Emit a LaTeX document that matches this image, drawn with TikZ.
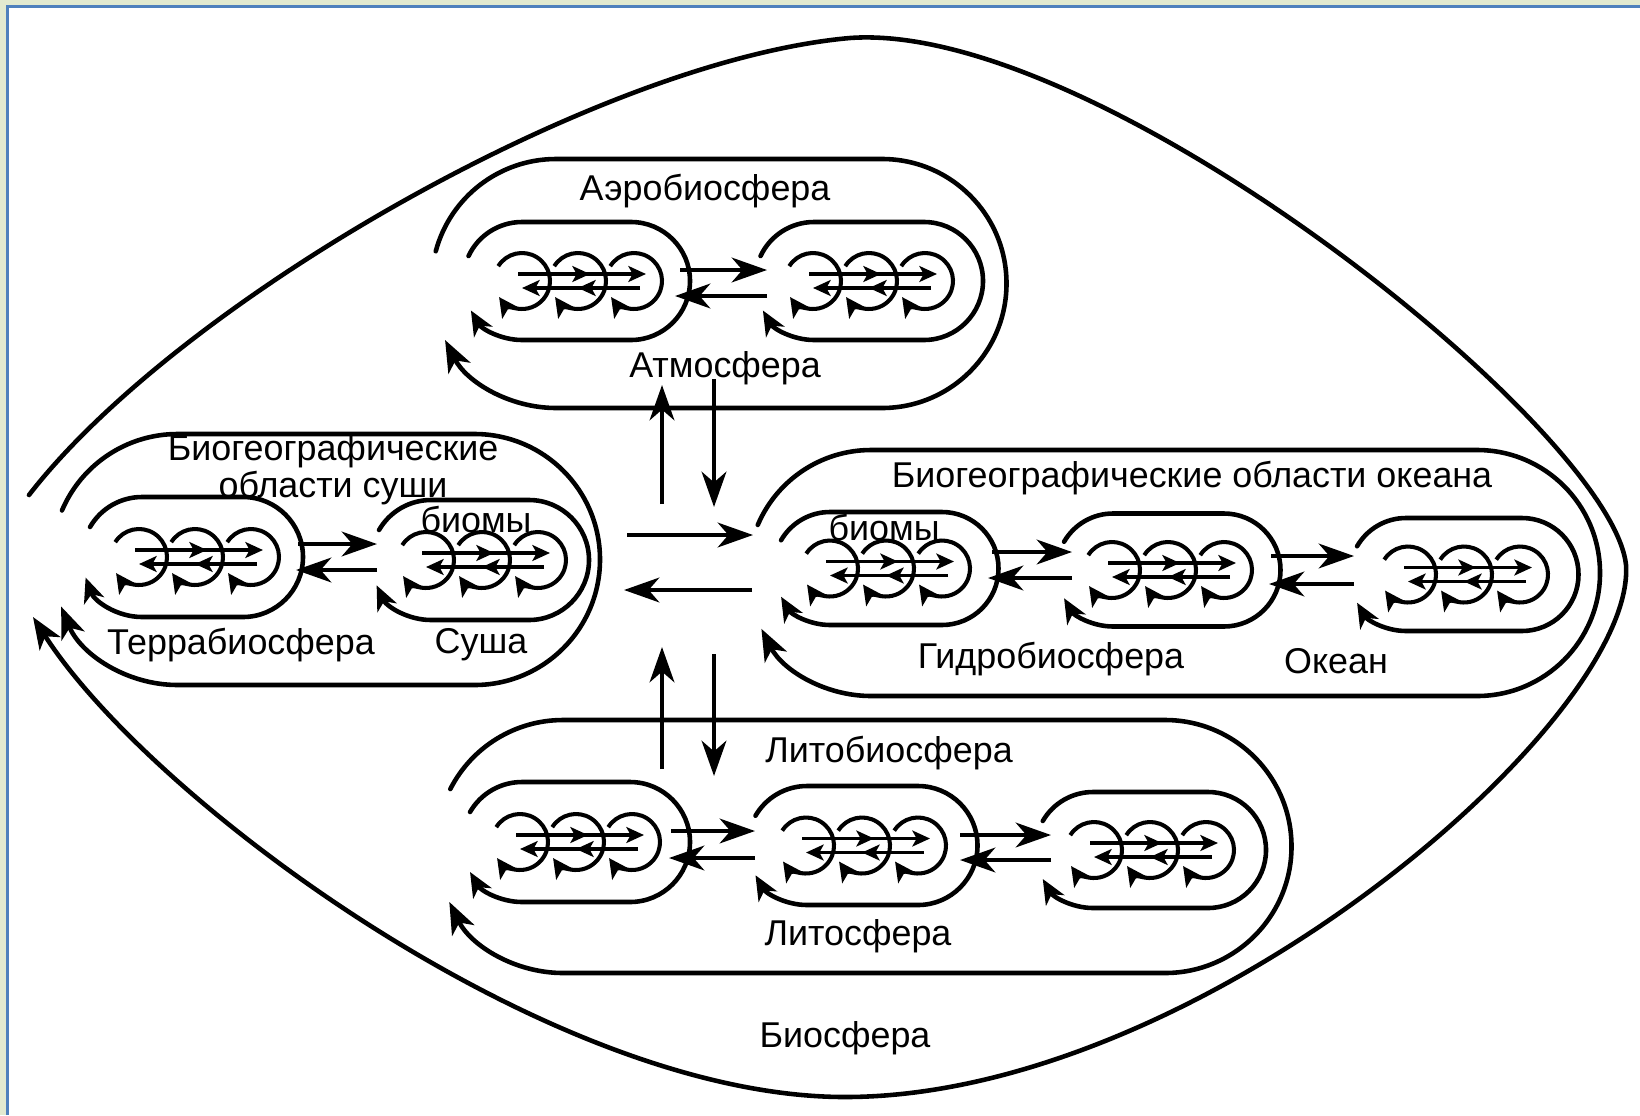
\documentclass[tikz,border=0pt]{standalone}
\usepackage{fontspec}
\setmainfont{Liberation Sans}
\usetikzlibrary{arrows.meta}
\definecolor{framegreen}{HTML}{E2EAD0}
\definecolor{frameblue}{HTML}{4F81BD}
\tikzset{
  ln/.style={line width=1.3pt, line cap=round},
  bigtip/.style={line width=1.3pt,-{Stealth[length=10pt,width=7pt,inset=3pt]}},
  looptip/.style={-{Stealth[length=9pt,width=7pt,inset=2.5pt]}},
  smalltip/.style={-{Stealth[length=7pt,width=6pt,inset=2pt]}},
  swirl/.style={line width=1.15pt,-{Stealth[length=5.5pt,width=5.5pt,inset=1.2pt]}},
  mini/.style={line width=1.1pt,-{Stealth[length=5pt,width=4.5pt,inset=1.2pt]}},
  lbl/.style={inner sep=0pt, font=\fontsize{10.2}{12}\selectfont},
}
\newcommand\loopbox[7]{%
  \pgfmathsetmacro\la{-#6}%
  \pgfmathsetmacro\lb{360-#7}%
  \pgfmathsetmacro\ytop{#4-#5}%
  \pgfmathsetmacro\ybot{#4+#5}%
  \draw[ln,#1] (#2,#4) ++(\la:#5) arc[start angle=\la,end angle=-90,radius=#5] -- (#3,\ytop) arc[start angle=-90,end angle=90,radius=#5] -- (#2,\ybot) arc[start angle=90,end angle=\lb,radius=#5];
}
\newcommand\swirls[3]{%
  \foreach \k in {-1,0,1}{
    \pgfmathsetmacro\sx{#1+\k*#3}
    \draw[swirl] (\sx,#2) ++(-148:28) arc[start angle=-148,end angle=145,radius=28];
  }
  \foreach \k in {-1,0}{
    \pgfmathsetmacro\sa{#1+\k*#3}
    \pgfmathsetmacro\sb{#1+(\k+1)*#3}
    \draw[mini] (\sa-4,#2-7) -- (\sb+12,#2-7);
    \draw[mini] (\sb+6,#2+7) -- (\sa+0,#2+7);
  }
}
\begin{document}
\begin{tikzpicture}[x=0.01cm,y=-0.01cm]
\useasboundingbox (0,0) rectangle (1640,1115);
\fill[framegreen] (0,0) rectangle (1640,1115);
\fill[white] (8,7) rectangle (1640,1115);
\draw[frameblue, line width=0.75pt] (7.5,1115) -- (7.5,6.5) -- (1640,6.5);

% Biosphere
\draw[ln,looptip] (29,495) .. controls (180,300) and (600,60) .. (850,38) .. controls (1100,20) and (1612,430) .. (1626,565) .. controls (1636,720) and (1200,1097) .. (845,1097) .. controls (550,1097) and (150,800) .. (33,617);

% Aerobiosphere
\loopbox{looptip}{556}{882}{283.5}{124.5}{165}{207}
\loopbox{smalltip}{522}{631}{281}{59}{155}{210}
\loopbox{smalltip}{814}{924}{281}{59}{155}{210}
\swirls{578}{281}{56}
\swirls{869}{281}{56}
\coordinate (a1) at (680,270); \coordinate (a2) at (767,270);
\coordinate (a3) at (767,296); \coordinate (a4) at (675,296);
\draw[bigtip] (a1) -- (a2);
\draw[bigtip] (a3) -- (a4);

% Land
\loopbox{looptip}{177.5}{474.5}{559.5}{125.5}{157}{202}
\loopbox{smalltip}{142}{243}{557}{60}{150}{200}
\loopbox{smalltip}{431}{529}{560}{60}{150}{205}
\swirls{195}{557}{56}
\swirls{482}{560}{56}
\coordinate (l1) at (298,544); \coordinate (l2) at (377,544);
\coordinate (l3) at (377,570); \coordinate (l4) at (296,570);
\draw[bigtip] (l1) -- (l2);
\draw[bigtip] (l3) -- (l4);

% Ocean
\loopbox{looptip}{871}{1477}{573}{123}{157}{207}
\loopbox{smalltip}{830}{942}{568.5}{56.5}{150}{210}
\loopbox{smalltip}{1113}{1224}{570}{56.5}{150}{210}
\loopbox{smalltip}{1406}{1522}{574.5}{56.5}{150}{210}
\swirls{886}{568.5}{56}
\swirls{1168}{570}{56}
\swirls{1464}{574.5}{56}
\coordinate (o1) at (992,552); \coordinate (o2) at (1072,552);
\coordinate (o3) at (1072,578); \coordinate (o4) at (988,578);
\coordinate (o5) at (1271,556); \coordinate (o6) at (1354,556);
\coordinate (o7) at (1354,584); \coordinate (o8) at (1269,584);
\draw[bigtip] (o1) -- (o2);
\draw[bigtip] (o3) -- (o4);
\draw[bigtip] (o5) -- (o6);
\draw[bigtip] (o7) -- (o8);

% Litho
\loopbox{looptip}{563}{1165}{846.5}{126.5}{153}{206}
\loopbox{smalltip}{522}{630}{842}{60}{150}{210}
\loopbox{smalltip}{807}{918}{845.5}{59.5}{150}{210}
\loopbox{smalltip}{1093}{1208}{850}{58}{150}{210}
\swirls{576}{842}{56}
\swirls{862}{845.5}{56}
\swirls{1150}{850}{56}
\coordinate (t1) at (671,831); \coordinate (t2) at (755,831);
\coordinate (t3) at (755,858); \coordinate (t4) at (669,858);
\coordinate (t5) at (960,835); \coordinate (t6) at (1051,835);
\coordinate (t7) at (1051,860); \coordinate (t8) at (960,860);
\draw[bigtip] (t1) -- (t2);
\draw[bigtip] (t3) -- (t4);
\draw[bigtip] (t5) -- (t6);
\draw[bigtip] (t7) -- (t8);

% central arrows
\coordinate (c1) at (662,504); \coordinate (c2) at (662,385);
\coordinate (c3) at (714,379); \coordinate (c4) at (714,507);
\coordinate (c5) at (627,535); \coordinate (c6) at (753,535);
\coordinate (c7) at (752,590); \coordinate (c8) at (624,590);
\coordinate (c9) at (662,769); \coordinate (c10) at (662,647);
\coordinate (c11) at (714,654); \coordinate (c12) at (714,776);
\draw[bigtip] (c1) -- (c2);
\draw[bigtip] (c3) -- (c4);
\draw[bigtip] (c5) -- (c6);
\draw[bigtip] (c7) -- (c8);
\draw[bigtip] (c9) -- (c10);
\draw[bigtip] (c11) -- (c12);

% labels
\node[lbl] (aerot) at (705,191) {Аэробиосфера};
\node[lbl] (atmt) at (725,368) {Атмосфера};
\node[lbl,align=center,font=\fontsize{10.2}{7.9}\selectfont] (landt) at (333,470) {Биогеографические\\области суши};
\node[lbl] (biomL) at (476,520) {биомы};
\node[lbl] (terrt) at (241,645) {Террабиосфера};
\node[lbl] (susht) at (481,645) {Суша};
\node[lbl] (oceant) at (1192,478) {Биогеографические области океана};
\node[lbl] (biomO) at (884,528) {биомы};
\node[lbl] (hydrt) at (1051,659) {Гидробиосфера};
\node[lbl] (okeant) at (1336,661) {Океан};
\node[lbl] (lithbt) at (889,753) {Литобиосфера};
\node[lbl] (litht) at (858,936) {Литосфера};
\node[lbl] (biost) at (845,1038) {Биосфера};
\end{tikzpicture}
\end{document}
